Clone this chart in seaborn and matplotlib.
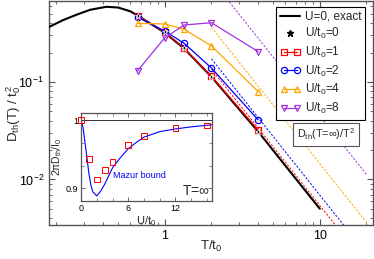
import numpy as np
import pandas as pd
import matplotlib
matplotlib.use("Agg")
import matplotlib.pyplot as plt
import seaborn as sns
from matplotlib.ticker import LogLocator, NullFormatter, FixedLocator, AutoMinorLocator
from matplotlib.legend_handler import HandlerLine2D
from matplotlib.lines import Line2D

# ---------------- data ----------------
T_exact = [0.179, 0.22, 0.27, 0.33, 0.42, 0.5, 0.6, 0.667, 0.8, 1.0, 1.333, 2.0, 3.0, 4.0, 6.0, 10.0]
D_exact = [0.366, 0.43, 0.49, 0.55, 0.59, 0.58, 0.53, 0.48, 0.40, 0.32, 0.22, 0.113, 0.053, 0.031, 0.0138, 0.005]

T_pts = [0.667, 1.0, 1.333, 2.0, 4.0]
D_U0 = [0.475, 0.325, 0.221, 0.113, 0.0308]
D_U1 = [0.477, 0.323, 0.221, 0.114, 0.0322]
D_U2 = [0.460, 0.333, 0.249, 0.139, 0.0408]
D_U4 = [0.399, 0.393, 0.347, 0.234, 0.0796]
D_U8 = [0.130, 0.284, 0.384, 0.405, 0.205]

T_hi = [2.0, 20.0]
Dinf_U1 = 0.54
Dinf_U2 = 0.69
Dinf_U4 = 1.45
Dinf_U8 = 4.5

U_inset = [0, 1, 2, 3, 4, 6, 8, 12, 16]
R_inset = [1.0, 0.943, 0.913, 0.927, 0.938, 0.964, 0.977, 0.988, 0.992]
U_mazur = [0, 0.25, 0.5, 0.75, 1, 1.25, 1.5, 2, 2.5, 3, 3.5, 4, 5, 6, 7, 8, 10, 12, 14, 16.6]
R_mazur = [1.0, 0.99, 0.968, 0.945, 0.922, 0.905, 0.895, 0.889, 0.896, 0.906, 0.918, 0.930,
           0.945, 0.958, 0.967, 0.975, 0.983, 0.987, 0.990, 0.993]

# ---------------- style ----------------
sns.set_style("ticks")
plt.rcParams['font.family'] = ['Liberation Sans', 'DejaVu Sans']
plt.rcParams['mathtext.fontset'] = 'custom'
plt.rcParams['mathtext.rm'] = 'Liberation Sans'
plt.rcParams['mathtext.it'] = 'Liberation Sans'
plt.rcParams['mathtext.bf'] = 'Liberation Sans:bold'

RED = '#ff0000'
BLUE = '#0000ff'
ORANGE = '#ffa500'
PURPLE = '#a030e0'
SPINE = '#555555'

fig = plt.figure(figsize=(3.74, 2.59), dpi=100)
ax = fig.add_axes([0.131, 0.130, 0.866, 0.866])

# dashed asymptotes D(inf)/T^2
for dinf, c in [(Dinf_U1, RED), (Dinf_U2, BLUE), (Dinf_U4, ORANGE), (Dinf_U8, PURPLE)]:
    yy = [dinf / t ** 2 for t in T_hi]
    sns.lineplot(x=np.array(T_hi), y=np.array(yy), ax=ax, color=c, lw=0.7,
                 linestyle=(0, (2.2, 1.6)), zorder=2)

# exact U=0
sns.lineplot(x=np.array(T_exact), y=np.array(D_exact), ax=ax, color='black', lw=1.5, zorder=3)

series = [
    (D_U1, RED, 's'),
    (D_U2, BLUE, 'o'),
    (D_U4, ORANGE, '^'),
    (D_U8, PURPLE, 'v'),
]
for d, c, m in series:
    sns.lineplot(x=np.array(T_pts), y=np.array(d), ax=ax, color=c, lw=0.9, marker=m,
                 markersize=4.5, markerfacecolor='none', markeredgecolor=c,
                 markeredgewidth=0.9, zorder=4)
sns.lineplot(x=np.array(T_pts), y=np.array(D_U0), ax=ax, color='black', lw=0, marker='*',
             markersize=5, markeredgewidth=0.5, zorder=5)

ax.set_xscale('log')
ax.set_yscale('log')
ax.xaxis.set_major_locator(FixedLocator([1, 10]))
ax.xaxis.set_minor_locator(LogLocator(base=10, subs=np.arange(2, 10)))
ax.xaxis.set_minor_formatter(NullFormatter())
ax.set_xticklabels(['1', '10'])
ax.yaxis.set_minor_locator(LogLocator(base=10, subs=np.arange(2, 10)))
ax.yaxis.set_minor_formatter(NullFormatter())
ax.set_xlim(0.179, 22)
ax.set_ylim(0.00338, 0.676)
ax.tick_params(which='both', direction='in', top=True, right=True, colors=SPINE,
               labelcolor='black', labelsize=9)
ax.tick_params(which='major', length=4, width=0.8)
ax.tick_params(which='minor', length=2.2, width=0.6)
for s in ax.spines.values():
    s.set_color(SPINE)
    s.set_linewidth(1.0)

ax.set_xlabel(r'T/t$_0$', fontsize=9.5)
ax.xaxis.set_label_coords(0.5, -0.06)
ax.set_ylabel(r'D$_{\rm th}$(T) / t$_0^{\,2}$', fontsize=9.5)
ax.yaxis.set_label_coords(-0.08, 0.5)

# legend
h_exact = Line2D([], [], color='black', lw=1.5)
h_u0 = Line2D([], [], color='black', lw=0, marker='*', markersize=5)
hs = [h_exact, h_u0]
for d, c, m in series:
    hs.append(Line2D([], [], color=c, lw=0.9, marker=m, markersize=4.5,
                     markerfacecolor='none', markeredgecolor=c, markeredgewidth=0.9))
labels = ['U=0, exact', r'U/t$_0$=0', r'U/t$_0$=1', r'U/t$_0$=2', r'U/t$_0$=4', r'U/t$_0$=8']
leg = ax.legend(hs, labels, loc='upper right', bbox_to_anchor=(0.977, 0.975),
                borderaxespad=0, fontsize=8.5, numpoints=2, handlelength=1.7,
                handletextpad=0.4, labelspacing=0.3, borderpad=0.35, fancybox=False,
                framealpha=1, edgecolor='black',
                handler_map={h_u0: HandlerLine2D(numpoints=1), h_exact: HandlerLine2D(numpoints=1)})
leg.get_frame().set_linewidth(0.8)

ax.text(0.855, 0.405, r'D$_{\rm th}$(T=$\infty$)/T$^2$', transform=ax.transAxes,
        ha='center', va='center', fontsize=7.8,
        bbox=dict(boxstyle='square,pad=0.35', fc='white', ec='#555555', lw=0.8))

# ---------------- inset ----------------
ins = fig.add_axes([0.2166, 0.225, 0.3495, 0.3375])
ins.set_facecolor('white')
ins.axhline(1.0, color='#333333', lw=0.7, zorder=1)
sns.lineplot(x=np.array(U_mazur), y=np.array(R_mazur), ax=ins, color=BLUE, lw=0.8, zorder=2)
sns.scatterplot(x=np.array(U_inset), y=np.array(R_inset), ax=ins, marker='s', s=18,
                facecolor='none', edgecolor=RED, linewidth=0.7, zorder=3, clip_on=False)
ins.set_xlim(0, 16.6)
ins.set_ylim(0.882, 1.0098)
ins.xaxis.set_major_locator(FixedLocator([0, 6, 12]))
ins.xaxis.set_minor_locator(AutoMinorLocator(3))
ins.yaxis.set_major_locator(FixedLocator([0.9, 1.0]))
ins.set_yticklabels(['0.9', '1'])
ins.yaxis.set_minor_locator(FixedLocator([0.9333, 0.9667]))
ins.tick_params(which='both', direction='in', top=True, right=True, colors=SPINE,
                labelcolor='black', labelsize=6.5, pad=2)
ins.tick_params(which='major', length=3, width=0.6)
ins.tick_params(which='minor', length=2, width=0.5)
for s in ins.spines.values():
    s.set_color(SPINE)
    s.set_linewidth(0.9)
ins.set_xlabel(r'U/t$_0$', fontsize=8, labelpad=1)
ins.set_ylabel(r'2$\pi$D$_{\rm th}$/I$_0$', fontsize=7.5, labelpad=1)
ins.text(4.0, 0.919, 'Mazur bound', color=BLUE, fontsize=6.5, ha='left', va='center')
ins.text(0.985, 0.03, r'T=$\infty$', transform=ins.transAxes, ha='right', va='bottom',
         fontsize=10)

fig.savefig('out.png', dpi=100)
